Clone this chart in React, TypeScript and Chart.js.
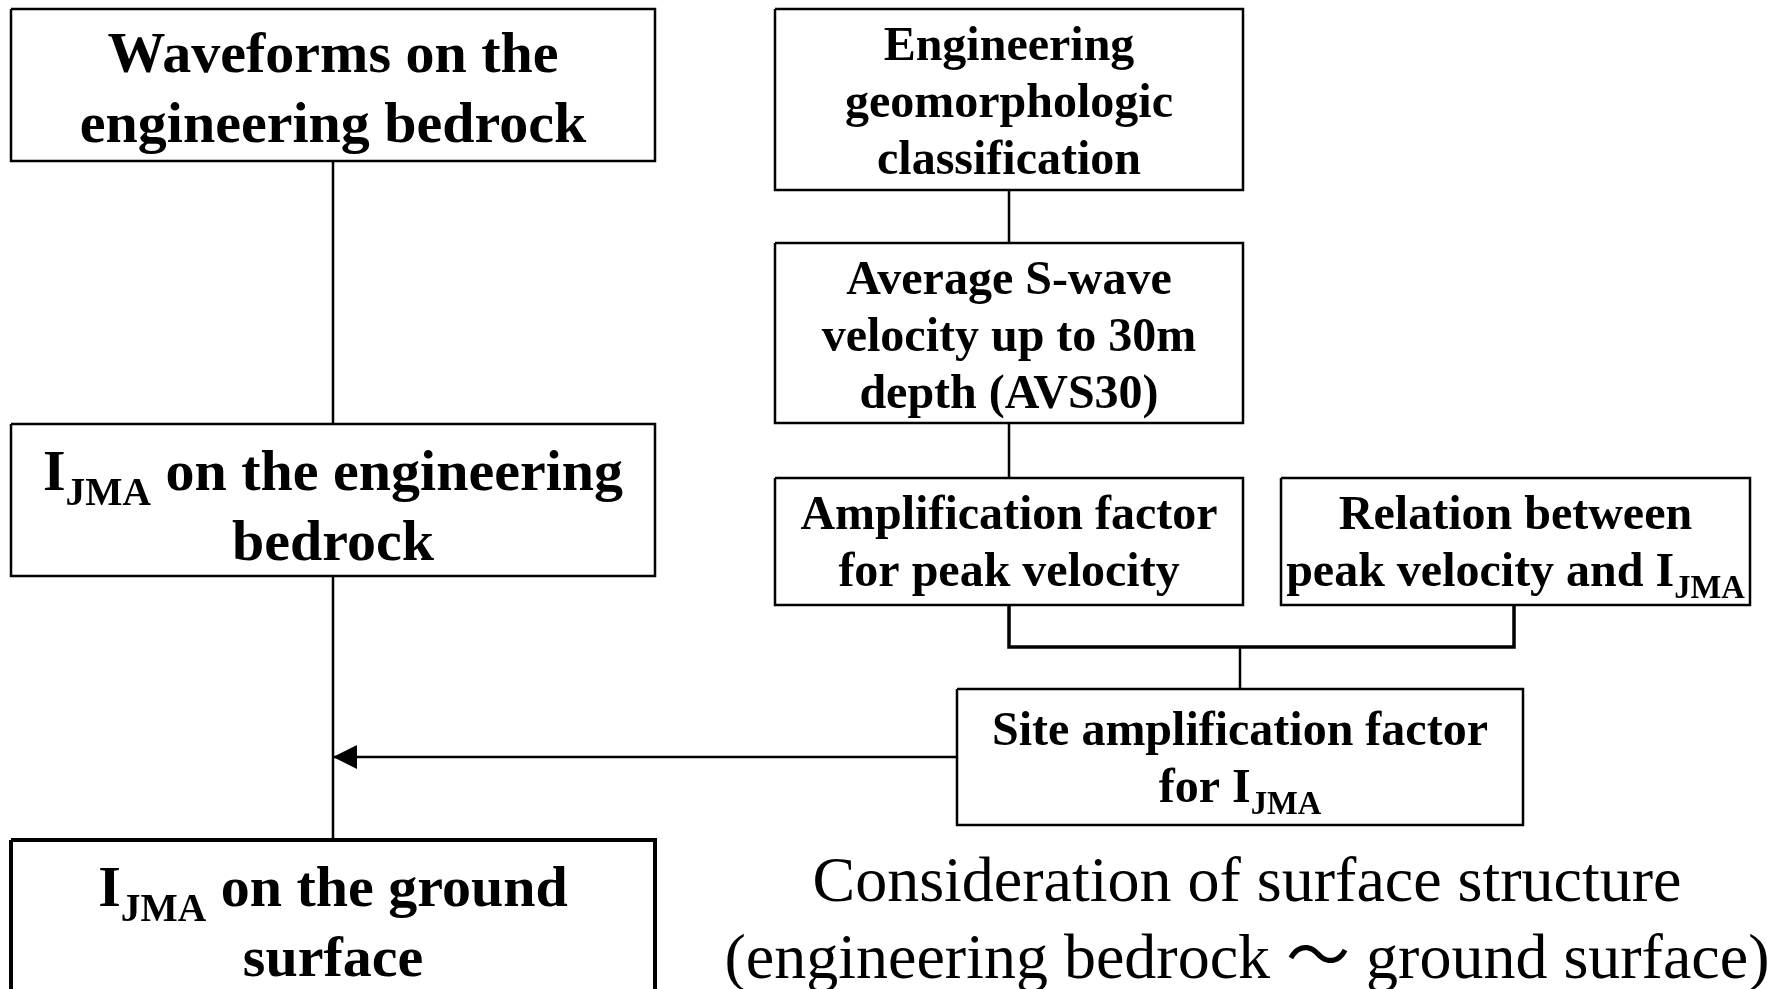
import React, { useEffect, useRef } from "react";
import { Chart, registerables } from "chart.js";

Chart.register(...registerables);

const CANVAS_W = 1777;
const CANVAS_H = 989;

// ---- flowchart nodes (in scale units) ----
const boxLines: string[][] = [
  ["Waveforms on the", "engineering bedrock"],
  ["I{JMA} on the engineering", "bedrock"],
  ["I{JMA} on the ground", "surface"],
  ["Engineering", "geomorphologic", "classification"],
  ["Average S-wave", "velocity up to 30m", "depth (AVS30)"],
  ["Amplification factor", "for peak velocity"],
  ["Relation between", "peak velocity and I{JMA}"],
  ["Site amplification factor", "for I{JMA}"],
];
const boxLeft = [11, 11, 11, 775, 775, 775, 1281, 957];
const boxRight = [655, 655, 655, 1243, 1243, 1243, 1750, 1523];
const boxTop = [9, 424, 840, 9, 243, 478, 478, 689];
const boxBottom = [161, 576, 1010, 190, 423, 605, 605, 825];
const boxGroup = ["L", "L", "L", "R", "R", "R", "R", "R"];
const boxHeavy = [false, false, true, false, false, false, false, false];
// distance from box top to the first text baseline
const boxFirstBaseline = [63, 66, 66, 51, 51, 51, 51, 56];

// ---- connectors (in scale units) ----
const connectors: number[][][] = [
  [[333, 161], [333, 424]],
  [[333, 576], [333, 840]],
  [[1009, 190], [1009, 243]],
  [[1009, 423], [1009, 478]],
  [[1009, 605], [1009, 647], [1514, 647], [1514, 605]],
  [[1240, 647], [1240, 689]],
  [[957, 757], [333, 757]],
];
const connectorHeavy = [false, false, false, false, true, false, false];
const arrowTip = [333, 757];

// ---- caption ----
const captionLines = [
  "Consideration of surface structure",
  "(engineering bedrock \uFF5E ground surface)",
];
const captionCenterX = 1247;
const captionBaselines = [901, 978];

const SERIF = "'Liberation Serif', 'Times New Roman', 'Noto Sans CJK JP', serif";
const GROUP_STYLE: Record<string, { size: number; gap: number }> = {
  L: { size: 58, gap: 70 },
  R: { size: 48, gap: 57 },
};

type Seg = { t: string; sub: boolean };
function parseRich(s: string): Seg[] {
  const out: Seg[] = [];
  const re = /\{([^}]*)\}/g;
  let last = 0;
  let m: RegExpExecArray | null;
  while ((m = re.exec(s))) {
    if (m.index > last) out.push({ t: s.slice(last, m.index), sub: false });
    out.push({ t: m[1], sub: true });
    last = m.index + m[0].length;
  }
  if (last < s.length) out.push({ t: s.slice(last), sub: false });
  return out;
}

function drawRich(ctx: CanvasRenderingContext2D, s: string, cx: number, baseline: number, size: number, weight: string) {
  const segs = parseRich(s);
  const subSize = size * 0.68;
  const widths = segs.map((g) => {
    ctx.font = `${weight} ${g.sub ? subSize : size}px ${SERIF}`;
    return ctx.measureText(g.t).width;
  });
  const total = widths.reduce((a, b) => a + b, 0);
  let x = cx - total / 2;
  segs.forEach((g, i) => {
    ctx.font = `${weight} ${g.sub ? subSize : size}px ${SERIF}`;
    ctx.fillText(g.t, x, g.sub ? baseline + size * 0.25 : baseline);
    x += widths[i];
  });
}

export default function App() {
  const ref = useRef<HTMLCanvasElement | null>(null);

  useEffect(() => {
    if (!ref.current) return;
    document.body.style.margin = "0";

    const boxDatasets = boxLeft.map((l, i) => ({
      type: "line" as const,
      data: [
        { x: l, y: boxTop[i] },
        { x: boxRight[i], y: boxTop[i] },
        { x: boxRight[i], y: boxBottom[i] },
        { x: l, y: boxBottom[i] },
        { x: l, y: boxTop[i] },
      ],
      borderColor: "#000",
      borderWidth: boxHeavy[i] ? 4 : 2.5,
      borderJoinStyle: "miter" as const,
      pointRadius: 0,
      fill: false,
      tension: 0,
      clip: false as any,
      label: boxLines[i].join(" "),
    }));

    const connDatasets = connectors.map((pts, i) => ({
      type: "line" as const,
      data: pts.map(([x, y]) => ({ x, y })),
      borderColor: "#000",
      borderWidth: connectorHeavy[i] ? 3.5 : 2.5,
      borderJoinStyle: "miter" as const,
      pointRadius: 0,
      fill: false,
      tension: 0,
      clip: false as any,
      label: "connector " + i,
    }));

    const textPlugin = {
      id: "flowText",
      afterDatasetsDraw(chart: any) {
        const ctx: CanvasRenderingContext2D = chart.ctx;
        const xs = chart.scales.x;
        const ys = chart.scales.y;
        ctx.save();
        ctx.fillStyle = "#000";
        ctx.textBaseline = "alphabetic";
        ctx.textAlign = "left";
        boxLines.forEach((lines, i) => {
          const st = GROUP_STYLE[boxGroup[i]];
          const cx = xs.getPixelForValue((boxLeft[i] + boxRight[i]) / 2);
          lines.forEach((ln, j) => {
            const by = ys.getPixelForValue(boxTop[i] + boxFirstBaseline[i] + j * st.gap);
            drawRich(ctx, ln, cx, by, st.size, "bold");
          });
        });
        // arrow head
        const tx = xs.getPixelForValue(arrowTip[0]);
        const ty = ys.getPixelForValue(arrowTip[1]);
        ctx.beginPath();
        ctx.moveTo(tx, ty);
        ctx.lineTo(tx + 24, ty - 12);
        ctx.lineTo(tx + 24, ty + 12);
        ctx.closePath();
        ctx.fill();
        // caption
        captionLines.forEach((ln, j) => {
          drawRich(ctx, ln, xs.getPixelForValue(captionCenterX), ys.getPixelForValue(captionBaselines[j]), 64, "normal");
        });
        ctx.restore();
      },
    };

    const chart = new Chart(ref.current, {
      type: "scatter",
      data: { datasets: [...boxDatasets, ...connDatasets] as any },
      options: {
        animation: false,
        responsive: true,
        maintainAspectRatio: false,
        layout: { padding: 0 },
        plugins: { legend: { display: false }, tooltip: { enabled: false } },
        events: [],
        scales: {
          x: { type: "linear", min: 0, max: CANVAS_W, display: false },
          y: { type: "linear", min: 0, max: CANVAS_H, reverse: true, display: false },
        },
      },
      plugins: [textPlugin],
    });
    return () => chart.destroy();
  }, []);

  return (
    <div style={{ position: "fixed", left: 0, top: 0, width: CANVAS_W, height: CANVAS_H, background: "#fff" }}>
      <canvas ref={ref} />
    </div>
  );
}
